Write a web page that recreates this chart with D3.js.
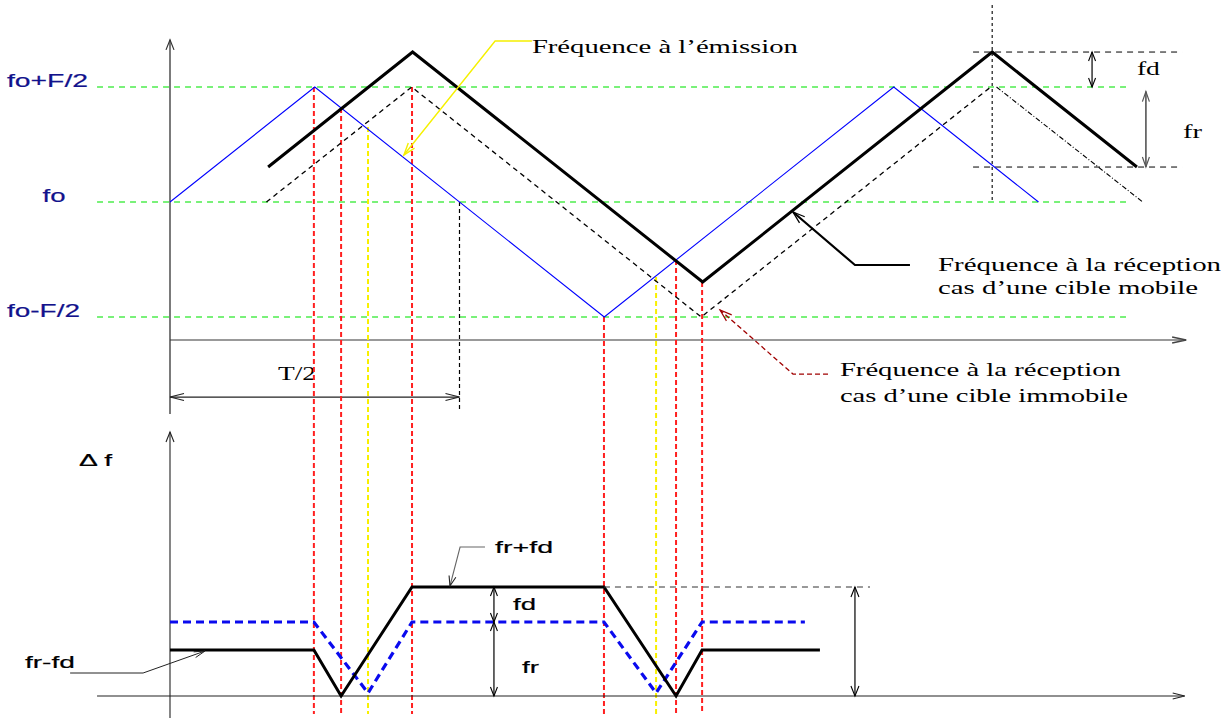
<!DOCTYPE html>
<html>
<head>
<meta charset="utf-8">
<script src="https://cdn.jsdelivr.net/npm/d3@7"></script>
<style>
  html, body { margin: 0; padding: 0; background: #fff; }
  svg { display: block; }
</style>
</head>
<body>
<script>
// ---- Data: time in units of T/2, frequency in units of F/2 around fo ----
// Emitted triangular FM chirp
const emitT = [0, 0.5, 1.5, 2.5, 3.0];
const emitF = [0, 1, -1, 1, 0];
// Echo from a fixed target (delayed by tau)
const echoT = [0.333, 0.835, 1.835, 2.835];
const echoF = [0, 1, -1, 1];
const echoTailT = [2.855, 3.36];
const echoTailF = [1, 0];
// Echo from a moving target (delayed and shifted by fd)
const movT = [0.339, 0.838, 1.84, 2.84, 3.34];
const movF = [0.304, 1.304, -0.696, 1.304, 0.304];
// Reference frequency levels
const levelF = [1, 0, -1];
const levelLabels = ["fo+F/2", "fo", "fo-F/2"];
const levelLabelT = [-0.563, -0.44, -0.563];
const levelLabelW = [81, 23, 73];
// Instants where the beat frequency changes (red: moving target, yellow: fixed target)
const redT = [0.497, 0.591, 0.836, 1.499, 1.748, 1.838];
const redF = [1, 0.817, 1, -1, -0.504, -0.696];
const yellowT = [0.684, 1.679];
const yellowF = [0.652, -0.652];
// Beat frequency Δf
const beatMovT = [0, 0.497, 0.591, 0.836, 1.499, 1.748, 1.838, 2.245];
const beatMovV = [0.46, 0.46, 0, 1.09, 1.09, 0, 0.46, 0.46];
const beatFixT = [0, 0.497, 0.684, 0.836, 1.499, 1.679, 1.838, 2.193];
const beatFixV = [0.74, 0.74, 0.03, 0.74, 0.74, 0.03, 0.74, 0.74];
const beatLevelV = [1.09, 0.74, 0]; // fr+fd, fr, 0

const W = 1231, H = 718;
const svg = d3.select("body").append("svg").attr("width", W).attr("height", H)
  .style("background", "#fff");

const x = d3.scaleLinear().domain([0, 1]).range([170, 459.5]);
const yTop = d3.scaleLinear().domain([-1, 1]).range([317, 87]);
const yBot = d3.scaleLinear().domain([0, 1]).range([696, 596]);

const SERIF = "'Liberation Serif', 'Times New Roman', serif";
const SANS = "'Liberation Sans', Arial, sans-serif";

const zip = (a, b) => a.map((v, i) => [v, b[i]]);
const lineTop = d3.line().x(d => x(d[0])).y(d => yTop(d[1]));
const lineBot = d3.line().x(d => x(d[0])).y(d => yBot(d[1]));

function path(g, pts, gen, stroke, width, dash) {
  const p = g.append("path").attr("d", gen(pts)).attr("fill", "none")
    .attr("stroke", stroke).attr("stroke-width", width)
    .attr("stroke-linejoin", "miter");
  if (dash) p.attr("stroke-dasharray", dash);
  return p;
}

// open "V" arrowhead with its tip at (tx,ty), pointing away from (fx,fy)
function arrowHead(g, tx, ty, fx, fy, stroke, width, len = 10, half = 4) {
  const dx = fx - tx, dy = fy - ty, L = Math.hypot(dx, dy);
  const ux = dx / L, uy = dy / L;
  const bx = tx + ux * len, by = ty + uy * len;
  g.append("path")
    .attr("d", `M${bx - uy * half},${by + ux * half}L${tx},${ty}L${bx + uy * half},${by - ux * half}`)
    .attr("fill", "none").attr("stroke", stroke).attr("stroke-width", width);
}

function text(g, str, px, py, w, size, family, fill) {
  const t = g.append("text").attr("x", px).attr("y", py).text(str)
    .attr("font-family", family).attr("font-size", size).attr("fill", fill)
    .attr("textLength", w).attr("lengthAdjust", "spacingAndGlyphs");
  // the wide sans labels carry a slightly heavier stroke
  if (family === SANS) t.attr("stroke", fill).attr("stroke-width", 0.2);
  return t;
}

// ================= Upper panel: frequency vs time =================
const gTop = svg.append("g");

// level lines fo+F/2, fo, fo-F/2
levelF.forEach((f, i) => {
  path(gTop, [[-0.252, f], [3.31, f]], lineTop, "#4ded4d", 1.6, "6,5");
  text(gTop, levelLabels[i], x(levelLabelT[i]), yTop(f), levelLabelW[i], 18, SANS, "#12128c");
});

// axes
path(gTop, [[0, -1.2], [3.51, -1.2]], lineTop, "#999", 2);
arrowHead(gTop, x(3.51), yTop(-1.2), x(3.4), yTop(-1.2), "#444", 1.5, 14, 3);
path(gTop, [[0, -1.843], [0, 1.41]], lineTop, "#333", 1.3);
arrowHead(gTop, x(0), yTop(1.41), x(0), yTop(1), "#333", 1.2, 10, 4);

// T/2 marker and dimension arrow
path(gTop, [[1, 0], [1, -1.826]], lineTop, "#000", 1.2, "4,3");
path(gTop, [[0, -1.696], [1, -1.696]], lineTop, "#222", 1.2);
arrowHead(gTop, x(0), yTop(-1.696), x(1), yTop(-1.696), "#222", 1.1, 14, 3.5);
arrowHead(gTop, x(1), yTop(-1.696), x(0), yTop(-1.696), "#222", 1.1, 14, 3.5);
text(gTop, "T/2", x(0.373), yTop(-1.548), 38, 18, SERIF, "#000");

// vertical markers running through both panels
const bottomY = 714;
redT.forEach((t, i) => {
  gTop.append("line").attr("x1", x(t)).attr("x2", x(t))
    .attr("y1", yTop(redF[i])).attr("y2", bottomY)
    .attr("stroke", "#ff2020").attr("stroke-width", 2).attr("stroke-dasharray", "5,3");
});
yellowT.forEach((t, i) => {
  gTop.append("line").attr("x1", x(t)).attr("x2", x(t))
    .attr("y1", yTop(yellowF[i])).attr("y2", bottomY)
    .attr("stroke", "#f8f000").attr("stroke-width", 2).attr("stroke-dasharray", "5,3");
});

// construction lines for fd and fr on the right
path(gTop, [[2.84, 1.713], [2.84, 0]], lineTop, "#000", 1.1, "3,3");
path(gTop, [[2.774, 1.304], [3.496, 1.304]], lineTop, "#000", 1, "6,5");
path(gTop, [[2.774, 0.304], [3.496, 0.304]], lineTop, "#000", 1, "6,5");

// signals
path(gTop, zip(emitT, emitF), lineTop, "#0000ff", 1.1);
path(gTop, zip(echoT, echoF), lineTop, "#000", 1.3, "5,4");
path(gTop, zip(echoTailT, echoTailF), lineTop, "#000", 1.1, "5,2,1,2");
path(gTop, zip(movT, movF), lineTop, "#000", 3);

// fd / fr dimension arrows
path(gTop, [[3.185, 1.304], [3.185, 1]], lineTop, "#000", 1.2);
arrowHead(gTop, x(3.185), yTop(1.304), x(3.185), yTop(1), "#000", 1.1, 9, 3.5);
arrowHead(gTop, x(3.185), yTop(1), x(3.185), yTop(1.304), "#000", 1.1, 9, 3.5);
text(gTop, "fd", x(3.34), yTop(1.104), 23, 19, SERIF, "#000");
path(gTop, [[3.371, 0.96], [3.371, 0.304]], lineTop, "#555", 1.6);
arrowHead(gTop, x(3.371), yTop(0.96), x(3.371), yTop(0.304), "#555", 1.2, 10, 3.5);
arrowHead(gTop, x(3.371), yTop(0.304), x(3.371), yTop(0.96), "#555", 1.2, 10, 3.5);
text(gTop, "fr", x(3.499), yTop(0.557), 19, 19, SERIF, "#000");

// annotation: emitted frequency
path(gTop, [[1.25, 1.4], [1.123, 1.4], [0.808, 0.409]], lineTop, "#f5f000", 1.4);
arrowHead(gTop, x(0.808), yTop(0.409), x(1.123), yTop(1.4), "#f5f000", 1.4, 12, 4);
text(gTop, "Fréquence à l’émission", x(1.25), yTop(1.296), 266, 19, SERIF, "#000");

// annotation: moving target echo
path(gTop, [[2.556, -0.548], [2.366, -0.548], [2.152, -0.087]], lineTop, "#000", 2.2);
arrowHead(gTop, x(2.152), yTop(-0.087), x(2.366), yTop(-0.548), "#000", 1.3, 12, 4);
text(gTop, "Fréquence à la réception", x(2.653), yTop(-0.6), 283, 19, SERIF, "#000");
text(gTop, "cas d’une cible mobile", x(2.653), yTop(-0.8), 260, 19, SERIF, "#000");

// annotation: fixed target echo
path(gTop, [[2.273, -1.496], [2.152, -1.496], [1.9, -0.939]], lineTop, "#a00000", 1.3, "5,3");
arrowHead(gTop, x(1.9), yTop(-0.939), x(2.152), yTop(-1.496), "#a00000", 1.2, 12, 4);
text(gTop, "Fréquence à la réception", x(2.314), yTop(-1.513), 281, 19, SERIF, "#000");
text(gTop, "cas d’une cible immobile", x(2.314), yTop(-1.739), 288, 19, SERIF, "#000");

// ================= Lower panel: beat frequency Δf =================
const gBot = svg.append("g");

path(gBot, [[-0.252, 0], [3.505, 0]], lineBot, "#222", 1.1);
arrowHead(gBot, x(3.505), yBot(0), x(3.4), yBot(0), "#222", 1.1, 12, 3);
path(gBot, [[0, -0.22], [0, 2.64]], lineBot, "#222", 1.1);
arrowHead(gBot, x(0), yBot(2.64), x(0), yBot(2), "#222", 1.1, 10, 4);
text(gBot, "Δ f", x(-0.314), yBot(2.3), 33, 17, SANS, "#000");

// beat frequency curves
path(gBot, zip(beatFixT, beatFixV), lineBot, "#0a0aee", 3.2, "8,5");
path(gBot, zip(beatMovT, beatMovV), lineBot, "#000", 3);

// fr+fd reference and dimension arrows
path(gBot, [[1.499, beatLevelV[0]], [2.418, beatLevelV[0]]], lineBot, "#333", 1, "6,5");
const dimT = 2.366;
gBot.append("line").attr("x1", x(dimT)).attr("x2", x(dimT))
  .attr("y1", yBot(beatLevelV[0])).attr("y2", yBot(beatLevelV[2]))
  .attr("stroke", "#000").attr("stroke-width", 1.2);
arrowHead(gBot, x(dimT), yBot(beatLevelV[0]), x(dimT), yBot(beatLevelV[2]), "#000", 1.1, 10, 4);
arrowHead(gBot, x(dimT), yBot(beatLevelV[2]), x(dimT), yBot(beatLevelV[0]), "#000", 1.1, 10, 4);

const arrT = 1.119;
[[0, 1], [1, 2]].forEach(([a, b]) => {
  gBot.append("line").attr("x1", x(arrT)).attr("x2", x(arrT))
    .attr("y1", yBot(beatLevelV[a])).attr("y2", yBot(beatLevelV[b]))
    .attr("stroke", "#000").attr("stroke-width", 1.2);
  arrowHead(gBot, x(arrT), yBot(beatLevelV[a]), x(arrT), yBot(beatLevelV[b]), "#000", 1.1, 9, 3.5);
  arrowHead(gBot, x(arrT), yBot(beatLevelV[b]), x(arrT), yBot(beatLevelV[a]), "#000", 1.1, 9, 3.5);
});
text(gBot, "fd", x(1.185), yBot(0.86), 23, 17, SANS, "#000");
text(gBot, "fr", x(1.216), yBot(0.23), 17, 17, SANS, "#000");

// fr+fd callout
path(gBot, [[1.088, 1.49], [1.002, 1.49], [0.967, 1.1]], lineBot, "#666", 1.1);
arrowHead(gBot, x(0.967), yBot(1.1), x(1.002), yBot(1.49), "#222", 1.1, 10, 3.5);
text(gBot, "fr+fd", x(1.123), yBot(1.43), 58, 17, SANS, "#000");

// fr-fd callout
path(gBot, [[-0.345, 0.23], [-0.093, 0.23], [0.121, 0.45]], lineBot, "#222", 1);
arrowHead(gBot, x(0.121), yBot(0.45), x(-0.093), yBot(0.23), "#222", 1, 11, 3);
text(gBot, "fr-fd", x(-0.501), yBot(0.28), 50, 17, SANS, "#000");
</script>
</body>
</html>
